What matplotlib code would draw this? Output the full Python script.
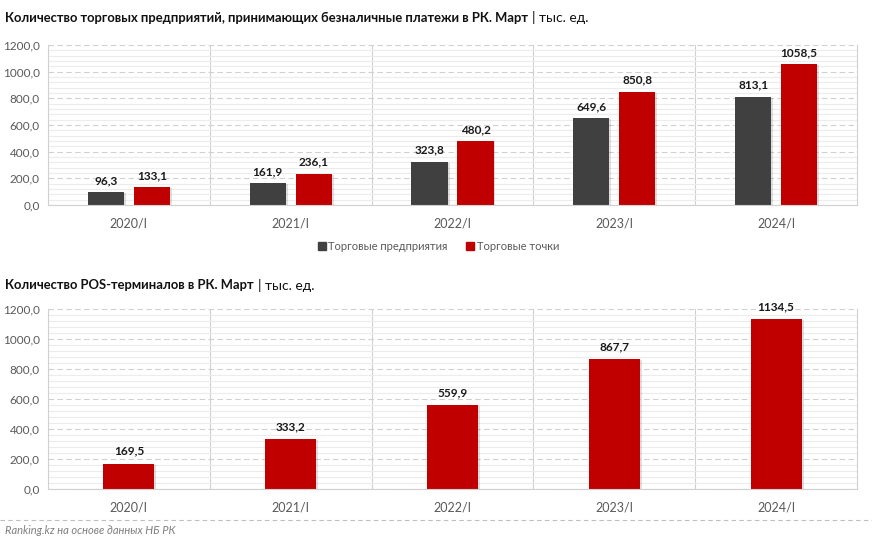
import numpy as np
import matplotlib
matplotlib.use("Agg")
import matplotlib.pyplot as plt
from matplotlib.ticker import MultipleLocator, FuncFormatter
from matplotlib.lines import Line2D

plt.rcParams['font.family'] = ['Lato', 'DejaVu Sans']

# данные
periods = ['2020/I', '2021/I', '2022/I', '2023/I', '2024/I']
enterprises = [96.3, 161.9, 323.8, 649.6, 813.1]
points = [133.1, 236.1, 480.2, 850.8, 1058.5]
pos_terminals = [169.5, 333.2, 559.9, 867.7, 1134.5]

DARK = '#404040'
RED = '#C00000'
GRID = '#d0d0d0'
MINOR = '#ececec'
TICK = '#595959'


def fmt(v):
    return f"{v:.1f}".replace('.', ',')


def style_axes(ax):
    ax.set_xlim(-0.5, len(periods) - 0.5)
    ax.set_ylim(0, 1200)
    ax.yaxis.set_major_locator(MultipleLocator(200))
    ax.yaxis.set_minor_locator(MultipleLocator(40))
    ax.yaxis.set_major_formatter(FuncFormatter(lambda v, p: fmt(v)))
    ax.grid(which='minor', axis='y', color=MINOR, linewidth=0.8, linestyle='-')
    ax.grid(which='major', axis='y', color=GRID, linewidth=0.8, linestyle=(0, (5, 3)))
    ax.set_axisbelow(True)
    for b in np.arange(0.5, len(periods) - 0.5, 1):
        ax.axvline(b, color=GRID, linewidth=0.8, zorder=0.5)
    ax.spines['top'].set_visible(False)
    for s in ['left', 'bottom', 'right']:
        ax.spines[s].set_color(GRID)
        ax.spines[s].set_linewidth(0.8)
    ax.set_xticks(range(len(periods)))
    ax.set_xticklabels(periods)
    ax.tick_params(axis='both', which='both', length=0, colors=TICK, labelsize=8.5)
    ax.tick_params(axis='x', pad=9, labelsize=9)
    ax.tick_params(axis='y', pad=6)


def shadow_bars(ax, x, h, w):
    # лёгкая тень справа от столбцов
    ax.bar(np.array(x) + 0.012, np.array(h) - 8, width=w, bottom=0,
           color='#000000', alpha=0.12, zorder=1.5, linewidth=0)


def add_title(y_px, bold_part):
    t = fig.text(5 / 872, 1 - y_px / 544, bold_part, fontsize=9.4, fontweight='bold',
                 va='center', ha='left', color='#111111')
    fig.canvas.draw()
    bb = t.get_window_extent()
    fig.text(bb.x1 / 872 + 0.005, 1 - y_px / 544, '| тыс. ед.', fontsize=10,
             va='center', ha='left', color='#111111')


fig = plt.figure(figsize=(8.72, 5.44), dpi=100)

# верхний график
ax1 = fig.add_axes([48 / 872, 1 - 205 / 544, 809 / 872, 160 / 544])
style_axes(ax1)
x = np.arange(len(periods))
w = 0.223
off = 0.142
shadow_bars(ax1, x - off, enterprises, w)
shadow_bars(ax1, x + off, points, w)
ax1.bar(x - off, enterprises, width=w, color=DARK, zorder=2)
ax1.bar(x + off, points, width=w, color=RED, zorder=2)
for xi, v in zip(x - off, enterprises):
    ax1.text(xi, v + 45, fmt(v), ha='center', va='bottom', fontsize=8.5,
             fontweight='bold', color='#1a1a1a')
for xi, v in zip(x + off, points):
    ax1.text(xi, v + 45, fmt(v), ha='center', va='bottom', fontsize=8.5,
             fontweight='bold', color='#1a1a1a')

handles = [Line2D([], [], marker='s', linestyle='', color=DARK, markersize=5.5),
           Line2D([], [], marker='s', linestyle='', color=RED, markersize=5.5)]
fig.legend(handles, ['Торговые предприятия', 'Торговые точки'],
           loc='center', bbox_to_anchor=(437 / 872, 1 - 246 / 544), ncol=2,
           frameon=False, fontsize=8, handletextpad=0.0, columnspacing=1.4,
           handlelength=1.2, labelcolor=TICK)

# нижний график
ax2 = fig.add_axes([48 / 872, 1 - 489 / 544, 809 / 872, 180 / 544])
style_axes(ax2)
w2 = 0.315
shadow_bars(ax2, x, pos_terminals, w2)
ax2.bar(x, pos_terminals, width=w2, color=RED, zorder=2)
for xi, v in zip(x, pos_terminals):
    ax2.text(xi, v + 45, fmt(v), ha='center', va='bottom', fontsize=8.5,
             fontweight='bold', color='#1a1a1a')

# заголовки
add_title(18, 'Количество торговых предприятий, принимающих безналичные платежи в РК. Март')
add_title(285, 'Количество POS-терминалов в РК. Март')

# подпись источника
fig.add_artist(Line2D([0, 1], [1 - 520 / 544, 1 - 520 / 544], transform=fig.transFigure,
                      color='#bfbfbf', linewidth=0.8, linestyle=(0, (4, 3))))
fig.text(5 / 872, 1 - 531 / 544, 'Ranking.kz на основе данных НБ РК', fontsize=8,
         style='italic', color='#7f7f7f', va='center', ha='left')

fig.savefig('out.png', dpi=100)
